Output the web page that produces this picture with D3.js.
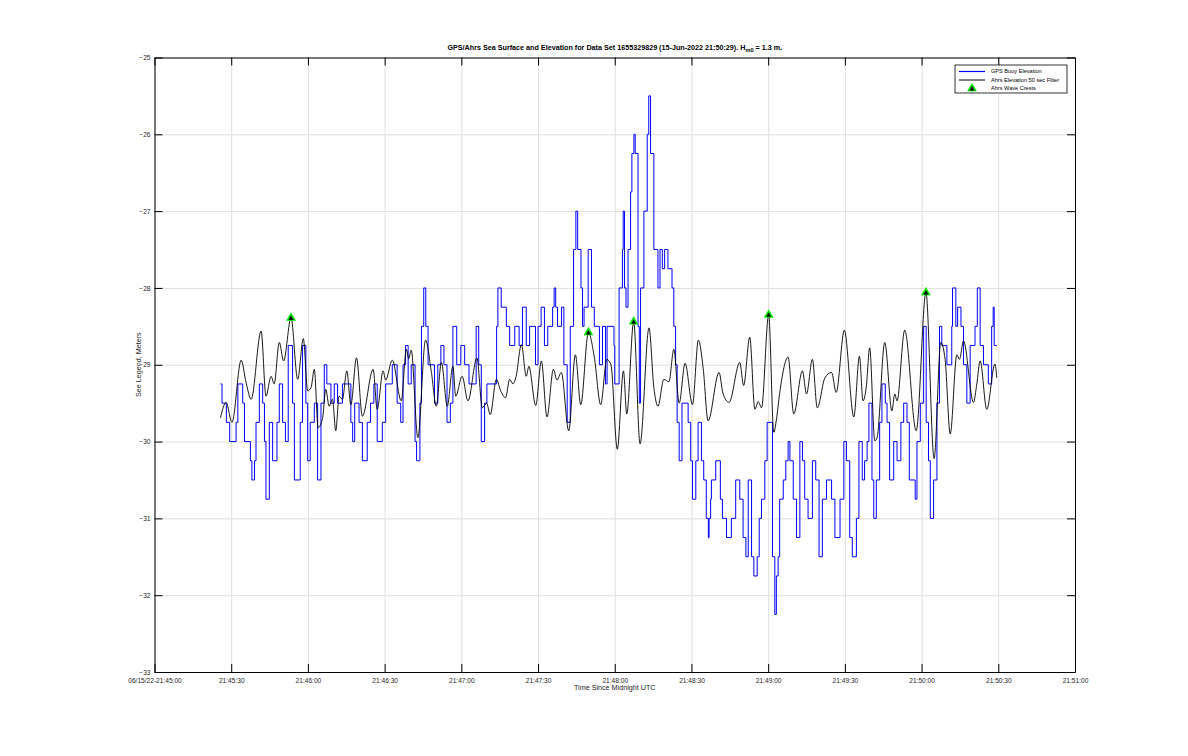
<!DOCTYPE html>
<html>
<head>
<meta charset="utf-8">
<script src="https://cdn.jsdelivr.net/npm/d3@7"></script>
<style>
body { margin: 0; background: #fff; }
text { font-family: "Liberation Sans", Arial, sans-serif; }
</style>
</head>
<body>
<svg id="chart" width="1188" height="756"></svg>
<script>
// seconds after 21:45:00 on 15-Jun-2022
var startTime = new Date(2022, 5, 15, 21, 45, 0);

var xTickSeconds = [0, 30, 60, 90, 120, 150, 180, 210, 240, 270, 300, 330, 360];
var xTickLabels = ['06/15/22-21:45:00', '21:45:30', '21:46:00', '21:46:30', '21:47:00', '21:47:30',
    '21:48:00', '21:48:30', '21:49:00', '21:49:30', '21:50:00', '21:50:30', '21:51:00'];
var yTicks = [-25, -26, -27, -28, -29, -30, -31, -32, -33];

// GPS buoy elevation: [seconds, level] step changes
var gpsSteps = [
    [25.8,-29.25],[26.4,-29.5],[28.1,-29.75],[29.4,-30],[31.9,-29.75],[32.6,-29.25],[34.5,-29.5],[35.2,-30],
    [37.5,-30.25],[38.1,-30.5],[39.1,-30.25],[39.7,-29.75],[41.0,-29.25],[42.3,-29.5],[43.0,-30],[43.6,-30.75],
    [44.9,-29.75],[46.2,-30.25],[47.9,-29.75],[48.8,-29.25],[50.1,-29.75],[51.2,-30],[52.3,-28.75],[54.0,-29.5],
    [54.7,-30.5],[57.0,-29.75],[57.9,-28.75],[59.2,-29.5],[59.9,-30.25],[60.9,-29.75],[62.5,-29.5],[63.8,-30.5],
    [65.1,-29.5],[66.4,-29.0],[67.4,-29.25],[69.0,-29.5],[70.3,-29.25],[71.6,-29.5],[73.5,-29.25],[76.8,-29.75],
    [77.5,-30],[78.3,-29.5],[80.0,-29.75],[81.3,-30.25],[83.2,-29.75],[84.5,-29.5],[85.8,-29.25],[87.1,-30],
    [89.1,-29.75],[90.4,-29.25],[93.0,-29.0],[94.9,-29.5],[96.3,-29.75],[97.2,-29.0],[98.2,-28.75],[99.2,-29.25],
    [100.4,-29.0],[101.9,-30.0],[102.5,-30.25],[103.8,-29.5],[104.4,-28.5],[105.3,-28.0],[106.1,-28.5],[107.0,-29.0],
    [109.5,-29.5],[110.8,-29.0],[112.0,-28.75],[113.2,-29.0],[114.4,-29.75],[115.7,-29.5],[116.7,-28.5],[118.2,-29.0],
    [119.8,-28.75],[121.3,-29.0],[123.0,-29.25],[125.8,-28.5],[126.8,-29.0],[127.8,-30.0],[129.1,-29.5],[130.0,-29.25],
    [133.8,-28.5],[134.3,-28.0],[135.6,-28.25],[137.6,-28.5],[138.9,-28.75],[140.9,-28.5],[142.6,-28.75],[143.9,-28.25],
    [145.4,-28.75],[146.7,-28.5],[149.0,-29.0],[150.0,-28.5],[151.2,-28.25],[152.5,-28.75],[153.8,-28.5],[155.7,-28.25],
    [156.3,-28.0],[156.9,-28.25],[157.6,-28.5],[159.2,-28.25],[160.1,-29.0],[161.4,-29.75],[162.6,-28.5],[163.9,-27.5],
    [164.8,-27.0],[165.5,-27.5],[166.8,-28.0],[167.4,-28.5],[168.0,-28.25],[169.6,-27.5],[170.9,-28.25],[172.0,-28.5],
    [174.0,-29.0],[175.2,-28.5],[176.4,-29.25],[177.0,-28.5],[179.7,-28.75],[180.0,-29.25],[181.7,-28.0],[183.0,-27.5],
    [183.3,-27.0],[183.8,-28.0],[184.4,-28.25],[185.2,-27.5],[186.2,-26.75],[186.7,-26.25],[187.5,-26.0],[188.0,-26.25],
    [189.1,-28.5],[189.6,-29.5],[190.1,-28.0],[191.4,-27.0],[192.7,-26.0],[193.3,-25.5],[194.0,-26.25],[195.3,-27.5],
    [196.9,-28.0],[197.7,-27.5],[198.6,-27.75],[199.5,-27.5],[200.8,-27.75],[202.4,-28.0],[203.1,-28.5],[203.8,-29.0],
    [204.4,-29.75],[205.2,-30.25],[206.3,-29.5],[208.7,-29.75],[209.7,-30.25],[210.4,-30.75],[211.7,-30.25],[212.6,-29.75],
    [213.9,-30.25],[214.8,-30.5],[215.8,-31.0],[216.6,-31.25],[216.9,-31.0],[217.5,-30.75],[217.8,-30.5],[219.5,-30.25],
    [221.3,-30.75],[222.1,-31.0],[223.7,-31.25],[225.6,-31.0],[227.3,-30.5],[228.9,-30.75],[230.2,-31.25],[231.3,-31.5],
    [232.2,-30.5],[233.5,-31.5],[234.4,-31.75],[235.7,-31.5],[236.5,-31.0],[237.4,-30.75],[238.7,-30.25],[239.6,-29.75],
    [241.7,-31.5],[242.6,-32.25],[243.2,-31.75],[243.9,-31.5],[244.5,-30.75],[245.9,-30.5],[246.9,-30.25],[247.8,-30.0],
    [248.5,-30.25],[249.8,-30.75],[251.1,-31.25],[252.4,-30.0],[253.4,-30.25],[254.3,-30.75],[255.6,-31.0],[257.3,-30.25],
    [258.6,-30.5],[259.9,-31.5],[261.2,-30.75],[262.8,-30.5],[264.8,-30.75],[266.1,-31.25],[268.1,-30.75],[269.6,-30.0],
    [270.6,-30.25],[271.9,-31.25],[272.9,-31.5],[274.5,-31.0],[275.5,-30.0],[276.8,-30.5],[277.7,-30.25],[278.7,-30.0],
    [279.4,-29.5],[280.6,-30.5],[281.3,-31.0],[282.3,-30.5],[283.6,-29.75],[284.5,-29.25],[285.8,-29.5],[286.5,-29.75],
    [287.5,-30.5],[289.1,-30.0],[290.4,-30.25],[291.9,-29.75],[293.0,-29.5],[294.3,-29.75],[295.2,-30.5],[297.5,-30.75],
    [298.2,-30.0],[299.5,-29.5],[300.8,-28.5],[301.8,-29.75],[302.7,-30.25],[303.4,-31.0],[304.7,-30.5],[306.0,-29.5],
    [307.0,-28.5],[307.9,-28.75],[309.9,-29.0],[311.8,-28.5],[312.1,-28.0],[313.4,-28.5],[314.1,-28.25],[315.4,-28.5],
    [316.4,-29.0],[317.7,-29.5],[319.0,-28.75],[320.9,-28.5],[321.8,-28.0],[322.9,-28.75],[324.2,-29.0],[326.1,-29.25],
    [327.4,-28.5],[328.0,-28.25],[328.4,-28.75],[329.4,-28.75]
];

// Ahrs elevation 50 sec filter: [seconds, value] turning points of the curve
var ahrsPoints = [
    [25.8,-29.69],[28.0,-29.49],[30.3,-29.75],[33.9,-28.94],[35.8,-29.23],[37.8,-29.45],[41.7,-28.56],[43.6,-29.41],
    [45.6,-29.15],[46.8,-29.25],[48.8,-28.71],[50.5,-28.95],[53.4,-28.39],[56.0,-29.19],[58.2,-28.66],[59.9,-29.34],
    [61.2,-29.3],[62.5,-29.06],[64.0,-29.82],[65.7,-29.7],[67.0,-29.32],[68.3,-29.54],[69.6,-29.45],[70.9,-29.86],
    [72.2,-29.41],[73.5,-29.45],[75.2,-29.08],[76.8,-29.52],[79.0,-28.91],[81.3,-29.67],[85.5,-29.06],[87.1,-29.58],
    [89.4,-29.08],[90.4,-29.2],[93.0,-28.94],[96.5,-29.47],[98.5,-28.8],[99.4,-28.92],[100.4,-28.81],[103.0,-29.95],
    [106.0,-28.68],[108.3,-29.1],[110.2,-29.54],[112.2,-28.97],[114.5,-29.54],[116.7,-29.02],[117.8,-29.41],[120.3,-29.15],
    [122.6,-29.47],[126.1,-28.91],[128.2,-29.56],[129.9,-29.5],[131.3,-29.65],[133.7,-29.19],[135.5,-29.35],[137.3,-29.43],
    [138.9,-29.19],[140.2,-29.25],[141.3,-29.17],[143.5,-28.74],[145.4,-29.15],[146.4,-29.02],[149.1,-29.53],[151.3,-28.95],
    [153.5,-29.68],[156.0,-29.06],[157.4,-29.2],[159.1,-29.1],[162.0,-29.86],[164.6,-28.87],[166.7,-29.52],[169.7,-28.58],
    [172.0,-28.9],[174.5,-29.52],[176.9,-28.93],[178.5,-29.0],[181.0,-30.1],[183.4,-29.08],[184.7,-29.64],[187.4,-28.44],
    [189.9,-30.03],[193.4,-28.52],[195.3,-29.3],[196.9,-29.54],[199.2,-29.19],[201.2,-29.22],[203.1,-28.8],[205.2,-29.5],
    [207.5,-28.98],[210.4,-29.52],[212.7,-28.68],[214.6,-29.05],[216.5,-29.73],[220.8,-29.1],[222.3,-29.37],[224.7,-29.49],
    [228.9,-28.97],[230.4,-29.27],[232.8,-28.64],[234.8,-29.58],[236.1,-29.48],[237.4,-29.56],[240.2,-28.35],[242.2,-29.88],
    [243.2,-29.72],[244.5,-29.37],[247.8,-28.9],[250.0,-29.64],[253.4,-29.08],[255.0,-29.38],[257.3,-28.93],[259.2,-29.56],
    [262.2,-29.17],[264.8,-29.1],[266.6,-29.36],[269.8,-28.55],[273.5,-29.68],[275.7,-28.89],[277.1,-29.47],[278.4,-29.28],
    [279.7,-28.78],[281.7,-29.99],[282.6,-29.95],[285.6,-28.71],[288.4,-29.6],[289.5,-29.38],[290.4,-29.47],[293.4,-28.55],
    [297.9,-29.86],[301.7,-28.06],[304.9,-30.22],[307.5,-28.71],[309.2,-28.93],[311.2,-29.9],[313.8,-28.87],[314.8,-28.93],
    [316.4,-28.69],[320.3,-29.49],[321.6,-29.25],[322.9,-28.95],[325.5,-29.58],[328.7,-28.99],[329.4,-29.17]
];

// Ahrs wave crests
var crestSeconds = [53.4, 169.7, 187.4, 240.2, 301.7];
var crestValues = [-28.39, -28.58, -28.44, -28.35, -28.06];

var titleText = 'GPS/Ahrs Sea Surface and Elevation for Data Set 1655329829 (15-Jun-2022 21:50:29). H';
var legendLabels = ['GPS Buoy Elevation', 'Ahrs Elevation 50 sec Filter', 'Ahrs Wave Crests'];

function toDate(s) {
    return new Date(startTime.getTime() + s * 1000);
}

var plotLeft = 154.5, plotRight = 1075, plotTop = 57.5, plotBottom = 672;

var x = d3.scaleTime()
    .domain([toDate(0), toDate(360)])
    .range([plotLeft, plotRight]);
var y = d3.scaleLinear()
    .domain([-33, -25])
    .range([plotBottom, plotTop]);

var svg = d3.select('#chart');
var tickColor = '#262626';

// grid
svg.append('g')
    .attr('transform', 'translate(0,' + plotBottom + ')')
    .call(d3.axisBottom(x).tickValues(xTickSeconds.map(toDate)).tickSize(-(plotBottom - plotTop)).tickFormat(''))
    .call(function (g) {
        g.select('.domain').remove();
        g.selectAll('line').attr('stroke', '#dfdfdf');
    });
svg.append('g')
    .attr('transform', 'translate(' + plotLeft + ',0)')
    .call(d3.axisLeft(y).tickValues(yTicks).tickSize(-(plotRight - plotLeft)).tickFormat(''))
    .call(function (g) {
        g.select('.domain').remove();
        g.selectAll('line').attr('stroke', '#dfdfdf');
    });

// data
svg.append('clipPath').attr('id', 'plotclip')
    .append('rect')
    .attr('x', plotLeft).attr('y', plotTop)
    .attr('width', plotRight - plotLeft).attr('height', plotBottom - plotTop);

var plot = svg.append('g').attr('clip-path', 'url(#plotclip)');

var stepLine = d3.line()
    .x(function (d) { return x(toDate(d[0])); })
    .y(function (d) { return y(d[1]); })
    .curve(d3.curveStepAfter);

plot.append('path')
    .datum(gpsSteps)
    .attr('d', stepLine)
    .attr('fill', 'none')
    .attr('stroke', '#0000ff')
    .attr('stroke-width', 1);

var smoothLine = d3.line()
    .x(function (d) { return x(toDate(d[0])); })
    .y(function (d) { return y(d[1]); })
    .curve(d3.curveMonotoneX);

plot.append('path')
    .datum(ahrsPoints)
    .attr('d', smoothLine)
    .attr('fill', 'none')
    .attr('stroke', '#000')
    .attr('stroke-width', 0.9);

var triBig = d3.symbol().type(d3.symbolTriangle).size(34);
var triSmall = d3.symbol().type(d3.symbolTriangle).size(10);

var crests = plot.selectAll('g.crest')
    .data(crestSeconds)
    .enter().append('g')
    .attr('class', 'crest')
    .attr('transform', function (d, i) {
        return 'translate(' + x(toDate(d)) + ',' + y(crestValues[i]) + ')';
    });
crests.append('path').attr('d', triBig).attr('fill', '#00d000').attr('stroke', '#00ff00').attr('stroke-width', 0.6);
crests.append('path').attr('d', triSmall).attr('fill', '#000').attr('transform', 'translate(0,0.6)');

// axes, inward ticks
svg.append('g')
    .attr('transform', 'translate(0,' + plotBottom + ')')
    .call(d3.axisBottom(x)
        .tickValues(xTickSeconds.map(toDate))
        .tickFormat(function (d, i) { return xTickLabels[i]; })
        .tickSizeInner(-8)
        .tickSizeOuter(0)
        .tickPadding(5))
    .call(function (g) {
        g.select('.domain').attr('stroke', '#000');
        g.selectAll('line').attr('stroke', '#000');
        g.selectAll('text').attr('fill', tickColor).style('font-size', '6.6px').attr('y', 6);
    });

svg.append('g')
    .attr('transform', 'translate(0,' + plotTop + ')')
    .call(d3.axisTop(x).tickValues(xTickSeconds.map(toDate)).tickFormat('').tickSizeInner(-8).tickSizeOuter(0))
    .call(function (g) {
        g.select('.domain').attr('stroke', '#000');
        g.selectAll('line').attr('stroke', '#000');
    });

svg.append('g')
    .attr('transform', 'translate(' + plotLeft + ',0)')
    .call(d3.axisLeft(y).tickValues(yTicks).tickFormat(d3.format('d')).tickSizeInner(-8).tickSizeOuter(0))
    .call(function (g) {
        g.select('.domain').attr('stroke', '#000');
        g.selectAll('line').attr('stroke', '#000');
        g.selectAll('text').attr('fill', tickColor).style('font-size', '6.6px').attr('x', -4);
    });

svg.append('g')
    .attr('transform', 'translate(' + plotRight + ',0)')
    .call(d3.axisRight(y).tickValues(yTicks).tickFormat('').tickSizeInner(-8).tickSizeOuter(0))
    .call(function (g) {
        g.select('.domain').attr('stroke', '#000');
        g.selectAll('line').attr('stroke', '#000');
    });

// labels
svg.append('text')
    .attr('x', (plotLeft + plotRight) / 2)
    .attr('y', 690)
    .attr('text-anchor', 'middle')
    .attr('fill', tickColor)
    .style('font-size', '7.2px')
    .text('Time Since Midnight UTC');

svg.append('text')
    .attr('transform', 'translate(141,' + ((plotTop + plotBottom) / 2) + ') rotate(-90)')
    .attr('text-anchor', 'middle')
    .attr('fill', tickColor)
    .style('font-size', '7.2px')
    .text('See Legend, Meters');

var title = svg.append('text')
    .attr('x', (plotLeft + plotRight) / 2)
    .attr('y', 50)
    .attr('text-anchor', 'middle')
    .attr('fill', '#000')
    .style('font-size', '7.2px')
    .style('font-weight', 'bold');
title.append('tspan').text(titleText);
title.append('tspan').attr('dy', 2).style('font-size', '5.6px').text('m0');
title.append('tspan').attr('dy', -2).text(' = 1.3 m.');

// legend
var legend = svg.append('g').attr('transform', 'translate(955,65)');
legend.append('rect')
    .attr('width', 112).attr('height', 28)
    .attr('fill', '#fff').attr('stroke', '#000').attr('stroke-width', 0.8);

var rowY = [6.5, 15, 23.5];
legend.append('line').attr('x1', 4).attr('x2', 30).attr('y1', rowY[0]).attr('y2', rowY[0])
    .attr('stroke', '#0000ff').attr('stroke-width', 1.2);
legend.append('line').attr('x1', 4).attr('x2', 30).attr('y1', rowY[1]).attr('y2', rowY[1])
    .attr('stroke', '#000');
var legTri = legend.append('g').attr('transform', 'translate(17,' + rowY[2] + ')');
legTri.append('path').attr('d', triBig).attr('fill', '#00d000').attr('stroke', '#00ff00').attr('stroke-width', 0.6);
legTri.append('path').attr('d', triSmall).attr('fill', '#000').attr('transform', 'translate(0,0.6)');

legend.selectAll('text.leg')
    .data(legendLabels)
    .enter().append('text')
    .attr('class', 'leg')
    .attr('x', 36)
    .attr('y', function (d, i) { return rowY[i]; })
    .attr('dy', '0.35em')
    .attr('fill', '#000')
    .style('font-size', '5.6px')
    .text(function (d) { return d; });
</script>
</body>
</html>
